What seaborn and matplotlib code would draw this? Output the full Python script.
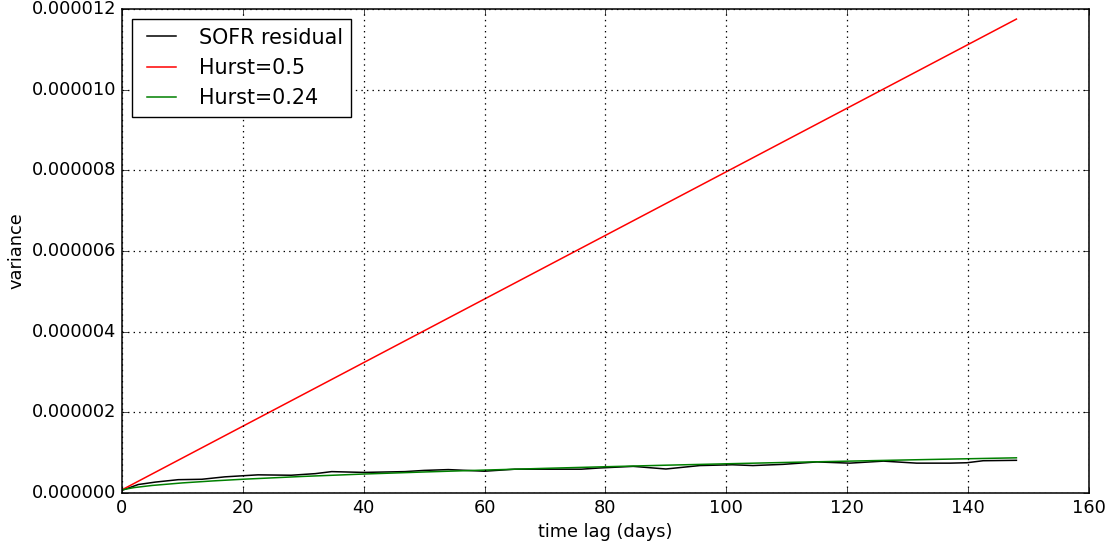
import numpy as np
import pandas as pd
import seaborn as sns
import matplotlib.pyplot as plt
from matplotlib.ticker import FormatStrFormatter

# values (variance in units of 1e-6)
sofr_lag = [0, 2.7, 5.5, 9.3, 13.2, 17, 22.5, 28, 32, 34.7, 40, 46.8, 50, 54, 57, 60,
            65, 70.5, 76, 79, 84.6, 90, 95.6, 101, 104.4, 109.4, 115, 120.4, 126,
            131.5, 137, 139.8, 142.5, 148]
sofr_var = [0.066, 0.21, 0.27, 0.33, 0.34, 0.40, 0.45, 0.44, 0.48, 0.53, 0.51, 0.53,
            0.56, 0.58, 0.56, 0.54, 0.59, 0.59, 0.59, 0.62, 0.66, 0.595, 0.68, 0.70,
            0.68, 0.71, 0.77, 0.74, 0.79, 0.74, 0.74, 0.75, 0.80, 0.81]

h50_lag = [0, 148]
h50_var = [0.079, 11.75]

h24_lag = [0, 2, 5, 10, 15, 20, 30, 40, 50, 60, 70, 80, 90, 100, 110, 120, 130, 140, 148]
h24_var = [0.079, 0.134, 0.187, 0.250, 0.299, 0.341, 0.411, 0.470, 0.521, 0.568,
           0.611, 0.651, 0.689, 0.724, 0.758, 0.789, 0.820, 0.849, 0.872]

plt.style.use('classic')
plt.rcParams['figure.facecolor'] = 'white'
plt.rcParams['savefig.facecolor'] = 'white'
plt.rcParams['font.size'] = 12.8
plt.rcParams['xtick.major.size'] = 4.3
plt.rcParams['ytick.major.size'] = 4.3

fig = plt.figure(figsize=(11.14, 5.52), dpi=100)
ax = fig.add_axes([0.1095, 0.1069, 0.868, 0.8768])

lw = 1.1
sns.lineplot(x=np.array(sofr_lag), y=np.array(sofr_var) * 1e-6, color='black',
             label='SOFR residual', ax=ax, linewidth=lw)
sns.lineplot(x=np.array(h50_lag), y=np.array(h50_var) * 1e-6, color='red',
             label='Hurst=0.5', ax=ax, linewidth=lw)
sns.lineplot(x=np.array(h24_lag), y=np.array(h24_var) * 1e-6, color='green',
             label='Hurst=0.24', ax=ax, linewidth=lw)

ax.set_xlim(0, 160)
ax.set_ylim(0, 0.000012)
ax.set_yticks(np.arange(0, 0.0000121, 0.000002))
ax.yaxis.set_major_formatter(FormatStrFormatter('%.6f'))
ax.grid(True, color='black', linestyle=':', linewidth=0.9)
for s in ax.spines.values():
    s.set_linewidth(1.1)
ax.set_xlabel('time lag (days)')
ax.set_ylabel('variance')
ax.legend(loc='upper left', fontsize=14.9, frameon=True)

fig.savefig('out.png', dpi=100)
